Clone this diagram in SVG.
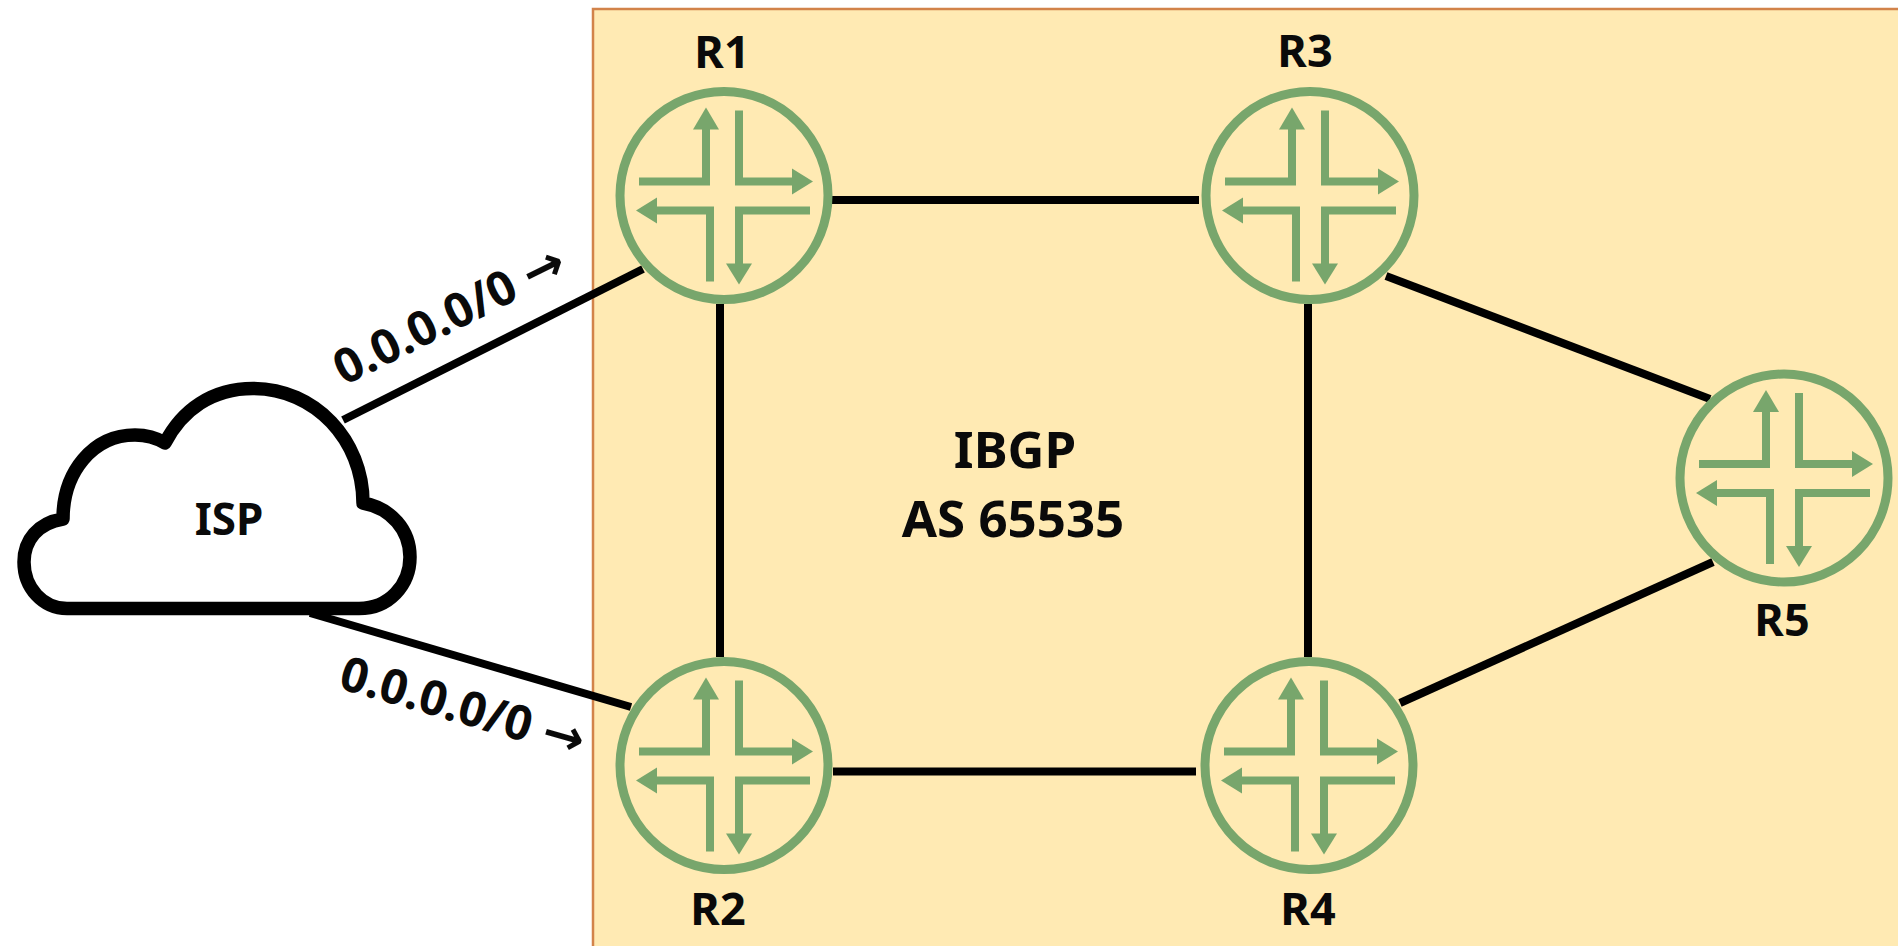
<svg xmlns="http://www.w3.org/2000/svg" width="1898" height="946" viewBox="0 0 1898 946">
<style>
text{font-family:"Noto Sans","Open Sans","DejaVu Sans",sans-serif;font-weight:700;fill:#0a0a0a}
.lbl{font-size:45px;text-anchor:middle}
.big{font-size:51px;text-anchor:middle}
.edge{font-size:48px}
.arw{font-family:"DejaVu Sans",sans-serif;font-size:50px;font-weight:700}
.c{stroke:#000;stroke-width:8;fill:none}
.ring{fill:none;stroke:#78a66c;stroke-width:9}
.gl{fill:none;stroke:#78a66c;stroke-width:8;stroke-linejoin:miter}
.gh{fill:#78a66c}
</style>
<defs>
<g id="router">
<circle class="ring" r="104"/>
<path class="gl" d="M-85-14H-18V-68"/>
<path class="gh" d="M-18-88L-5-66H-31Z"/>
<path class="gl" d="M15-85V-14H70"/>
<path class="gh" d="M89-14L68-1V-27Z"/>
<path class="gl" d="M-14 86V15H-68"/>
<path class="gh" d="M-88 15L-67 2V28Z"/>
<path class="gl" d="M86 15H15V70"/>
<path class="gh" d="M15 89L2 68H28Z"/>
</g>
</defs>
<rect width="1898" height="946" fill="#fff"/>
<rect id="as-area" x="593" y="9" width="1310" height="945" fill="#ffeab3" stroke="#d2834a" stroke-width="2.500"/>
<g id="connectors">
<path class="c" d="M832 200H1199"/>
<path class="c" d="M833 771.500H1196"/>
<path class="c" d="M720 304V657"/>
<path class="c" d="M1308 304V657"/>
<path class="c" d="M1386 276L1710 399"/>
<path class="c" d="M1400 703L1713 562"/>
<path class="c" d="M343 420L643 269"/>
<path class="c" d="M310 613L631 707"/>
</g>
<g id="ISP">
<path d="M67 608.500H359C389 608.500 410 585 410 557C410 530 391 508 363 503C363 440 315 388.500 253 388.500C212 388.500 182 410 165 443C155 437 145 435 135 435C93 435 63 472 63 519C38 523 24 540 24 562C24 588 43 608.500 67 608.500Z" fill="#fff" stroke="#000" stroke-width="13.500" stroke-linejoin="round"/>
<text class="lbl" x="229" y="535" style="font-size:44px">ISP</text>
</g>
<g id="R1"><use href="#router" x="724" y="195.500"/><text class="lbl" x="722" y="68">R1</text></g>
<g id="R3"><use href="#router" x="1310" y="195.500"/><text class="lbl" x="1305" y="67">R3</text></g>
<g id="R5"><use href="#router" x="1784" y="478"/><text class="lbl" x="1782" y="636">R5</text></g>
<g id="R2"><use href="#router" x="724" y="765.500"/><text class="lbl" x="718" y="925">R2</text></g>
<g id="R4"><use href="#router" x="1309" y="765.500"/><text class="lbl" x="1308" y="925">R4</text></g>
<g id="labels">
<text class="big" x="1015" y="468">IBGP</text>
<text class="big" x="1013" y="537">AS 65535</text>
<text class="edge" transform="translate(344 386) rotate(-26.500)">0.0.0.0/0 <tspan class="arw">→</tspan></text>
<text class="edge" transform="translate(337 688) rotate(16)">0.0.0.0/0 <tspan class="arw">→</tspan></text>
</g>
</svg>
